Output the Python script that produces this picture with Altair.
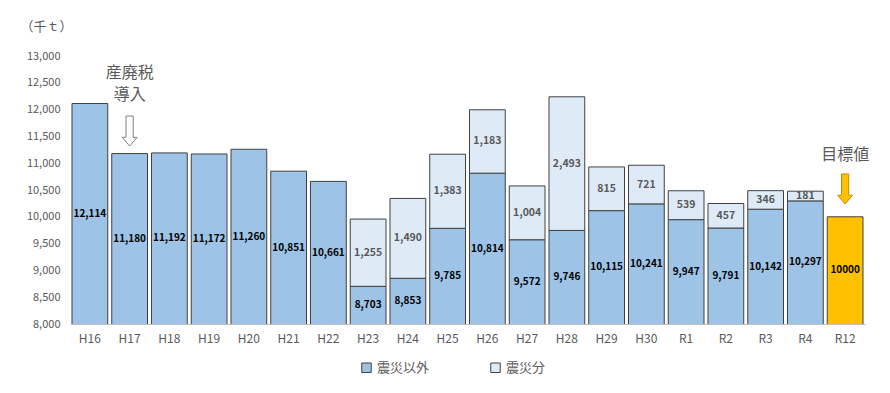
import altair as alt
import pandas as pd

categories = ["H16","H17","H18","H19","H20","H21","H22","H23","H24","H25","H26","H27","H28","H29","H30","R1","R2","R3","R4","R12"]
base_vals = [12114,11180,11192,11172,11260,10851,10661,8703,8853,9785,10814,9572,9746,10115,10241,9947,9791,10142,10297,10000]
quake_vals = [None,None,None,None,None,None,None,1255,1490,1383,1183,1004,2493,815,721,539,457,346,181,None]
base_names = ["震災以外"]*19 + ["目標値"]
quake_name = "震災分"
series_domain = ["震災以外", "震災分", "目標値"]
series_colors = ["#9DC3E6", "#DEEBF7", "#FFC000"]
y_ticks = [8000, 8500, 9000, 9500, 10000, 10500, 11000, 11500, 12000, 12500, 13000]
ymin, ymax = 8000, 13000

FONT = "Noto Sans CJK JP"

rows = []
for i, c in enumerate(categories):
    b = base_vals[i]
    lab_b = f"{b:,}" if c != "R12" else str(b)
    rows.append(dict(cat=c, series=base_names[i], lo=0, hi=b, mid=(ymin + b) / 2, label=lab_b, order=0))
    q = quake_vals[i]
    if q is not None:
        rows.append(dict(cat=c, series=quake_name, lo=b, hi=b + q, mid=b + q / 2, label=f"{q:,}", order=1))
df = pd.DataFrame(rows)

xaxis = alt.Axis(labelAngle=0, ticks=False, labelFont=FONT, labelFontSize=12,
                 labelColor="#595959", domainColor="#BFBFBF", labelPadding=9)
xscale = alt.Scale(paddingInner=0.1, paddingOuter=0.05)
yscale = alt.Scale(domain=[ymin, ymax], nice=False, zero=False)
yaxis = alt.Axis(values=y_ticks, format=",.0f", grid=False, ticks=False,
                 domain=False, labelOverlap=False, labelFont=FONT, labelFontSize=11,
                 labelColor="#595959",
                 labelPadding=10, titleAngle=0, titleAlign="left", titleBaseline="middle",
                 titleX=-50, titleY=-30,
                 titleFont=FONT, titleFontSize=13, titleFontWeight="normal", titleColor="#595959")


def X():
    return alt.X("cat:N", sort=categories, title=None, scale=xscale, axis=xaxis)


def Y(field):
    return alt.Y(field, scale=yscale, title="（千ｔ）", axis=yaxis)


bars = alt.Chart(df).mark_bar(stroke="#404040", strokeWidth=1, clip=True).encode(
    x=X(),
    y=Y("hi:Q"),
    y2="lo:Q",
    color=alt.Color("series:N", scale=alt.Scale(domain=series_domain, range=series_colors),
                    legend=alt.Legend(values=["震災以外", "震災分"], title=None, orient="none",
                                      direction="horizontal", legendX=290, legendY=305,
                                      symbolType="square", symbolSize=90, symbolStrokeColor="#404040",
                                      symbolStrokeWidth=1, labelFont=FONT, labelFontSize=13,
                                      labelColor="#595959", labelLimit=300, columnPadding=58)),
)

base_text = alt.Chart(df[df.order == 0]).mark_text(font=FONT, fontSize=10, fontWeight="bold", color="#000000").encode(
    x=X(), y=Y("mid:Q"), text="label:N")
top_text = alt.Chart(df[df.order == 1]).mark_text(font=FONT, fontSize=10.5, fontWeight=600, color="#595959").encode(
    x=X(), y=Y("mid:Q"), text="label:N")

ann_df = pd.DataFrame([
    dict(cat="H17", y=12680, text=["産廃税", "導入"]),
    dict(cat="R12", y=11150, text=["目標値"]),
])
ann = alt.Chart(ann_df).mark_text(font=FONT, fontSize=16, color="#595959", lineHeight=22, baseline="middle").encode(
    x=X(), y=Y("y:Q"), text="text")

arrow_path = "M-0.24,-1 L0.24,-1 L0.24,0.42 L0.5,0.42 L0,1 L-0.5,0.42 L-0.24,0.42 Z"
arrow1 = alt.Chart(pd.DataFrame({"cat": ["H17"], "y": [11600]})).mark_point(
    shape=arrow_path, size=900, filled=True, fill="#FFFFFF", stroke="#7F7F7F", strokeWidth=1, opacity=1).encode(
    x=X(), y=Y("y:Q"))
arrow2 = alt.Chart(pd.DataFrame({"cat": ["R12"], "y": [10520]})).mark_point(
    shape=arrow_path, size=900, filled=True, fill="#FFC000", stroke="#C08F00", strokeWidth=1, opacity=1).encode(
    x=X(), y=Y("y:Q"))

chart = alt.layer(bars, base_text, top_text, ann, arrow1, arrow2).properties(
    width=795, height=268,
    autosize=alt.AutoSizeParams(type="none"),
    padding={"left": 62, "top": 48, "right": 12, "bottom": 60},
).configure_view(stroke=None)

chart.save("out.html", embed_options={"renderer": "svg", "actions": False})
